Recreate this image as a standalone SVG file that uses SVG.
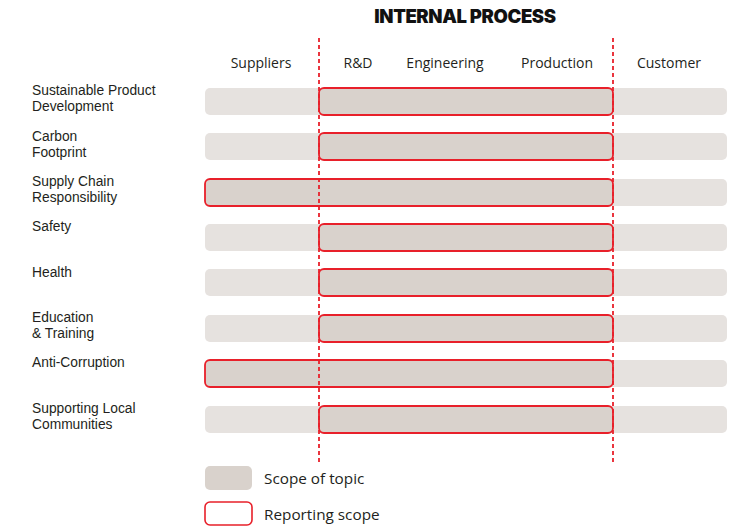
<svg xmlns="http://www.w3.org/2000/svg" width="732" height="526" viewBox="0 0 732 526">
<style>
.bg{fill:#e6e2df}
.sc{fill:#d9d2cc;stroke:#e8202a;stroke-width:1.8}
.t{font-family:"Liberation Sans",Arial,sans-serif;font-size:13.8px;fill:#231f20}
.h{font-family:"Open Sans","Liberation Sans",sans-serif;font-size:14px;fill:#231f20;text-anchor:middle}
.lg{font-family:"Open Sans","Liberation Sans",sans-serif;font-size:15.3px;fill:#231f20}
.dash{stroke:#e8202a;stroke-width:1.8;stroke-dasharray:4 3;fill:none}
</style>
<rect width="732" height="526" fill="#fff"/>
<text x="465" y="23" text-anchor="middle" font-family="Inter,'Liberation Sans',sans-serif" font-weight="900" font-size="18.5" fill="#111" letter-spacing="-0.4">INTERNAL PROCESS</text>
<g id="headers">
<text class="h" x="261" y="68">Suppliers</text>
<text class="h" x="358" y="68">R&amp;D</text>
<text class="h" x="445" y="68">Engineering</text>
<text class="h" x="557" y="68">Production</text>
<text class="h" x="669" y="68">Customer</text>
</g>
<g id="row1"><rect class="bg" x="205" y="88" width="522" height="27" rx="5"/><rect class="sc" x="319" y="88" width="294" height="27" rx="5"/><text class="t" x="32" y="95">Sustainable Product</text><text class="t" x="32" y="111">Development</text></g>
<g id="row2"><rect class="bg" x="205" y="133" width="522" height="27" rx="5"/><rect class="sc" x="319" y="133" width="294" height="27" rx="5"/><text class="t" x="32" y="141">Carbon</text><text class="t" x="32" y="157">Footprint</text></g>
<g id="row3"><rect class="bg" x="205" y="179" width="522" height="27" rx="5"/><rect class="sc" x="205" y="179" width="408" height="27" rx="5"/><text class="t" x="32" y="186">Supply Chain</text><text class="t" x="32" y="202">Responsibility</text></g>
<g id="row4"><rect class="bg" x="205" y="224" width="522" height="27" rx="5"/><rect class="sc" x="319" y="224" width="294" height="27" rx="5"/><text class="t" x="32" y="231">Safety</text></g>
<g id="row5"><rect class="bg" x="205" y="269" width="522" height="27" rx="5"/><rect class="sc" x="319" y="269" width="294" height="27" rx="5"/><text class="t" x="32" y="277">Health</text></g>
<g id="row6"><rect class="bg" x="205" y="315" width="522" height="27" rx="5"/><rect class="sc" x="319" y="315" width="294" height="27" rx="5"/><text class="t" x="32" y="322">Education</text><text class="t" x="32" y="338">&amp; Training</text></g>
<g id="row7"><rect class="bg" x="205" y="360" width="522" height="27" rx="5"/><rect class="sc" x="205" y="360" width="408" height="27" rx="5"/><text class="t" x="32" y="367">Anti-Corruption</text></g>
<g id="row8"><rect class="bg" x="205" y="406" width="522" height="27" rx="5"/><rect class="sc" x="319" y="406" width="294" height="27" rx="5"/><text class="t" x="32" y="413">Supporting Local</text><text class="t" x="32" y="429">Communities</text></g>
<g id="connectors">
<line class="dash" x1="319" y1="38" x2="319" y2="462"/>
<line class="dash" x1="613" y1="38" x2="613" y2="462"/>
</g>
<g id="legend">
<rect x="205" y="466" width="47" height="24" rx="5" fill="#d9d2cc"/>
<text class="lg" x="264" y="484">Scope of topic</text>
<rect x="205" y="502" width="47" height="23" rx="5" fill="#fff" stroke="#e8202a" stroke-width="1.6"/>
<text class="lg" x="264" y="520">Reporting scope</text>
</g>
</svg>
